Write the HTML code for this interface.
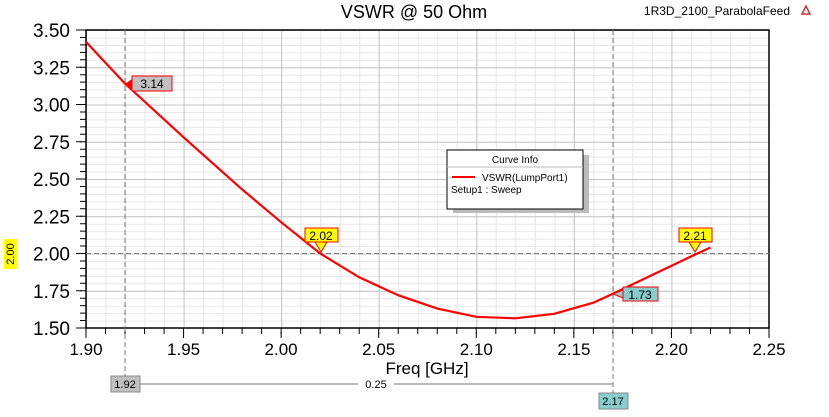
<!DOCTYPE html><html><head><style>body{margin:0;background:#fff}svg text{font-family:"Liberation Sans",sans-serif}</style></head><body>
<svg width="829" height="412" xmlns="http://www.w3.org/2000/svg">
<defs>
<pattern id="mn" x="86" y="30" width="19.5143" height="7.45" patternUnits="userSpaceOnUse"><path d="M0.5 0V7.45M0 0.5H19.5143" stroke="#e6e6e6" fill="none"/></pattern>
<pattern id="mj" x="86" y="30" width="97.5714" height="37.25" patternUnits="userSpaceOnUse"><path d="M0.5 0V37.25M0 0.5H97.5714" stroke="#c4c4c4" fill="none"/></pattern>
</defs>
<rect width="829" height="412" fill="#fff"/>
<rect x="86" y="30" width="683" height="298" fill="url(#mn)"/>
<rect x="86" y="30" width="683" height="298" fill="url(#mj)"/>
<rect x="86" y="30" width="683" height="298" fill="none" stroke="#000" stroke-width="1.5"/>
<line x1="83" y1="29.5" x2="83" y2="329" stroke="#000" stroke-width="6" stroke-dasharray="1,6.45"/>
<line x1="79" y1="29.5" x2="79" y2="329" stroke="#000" stroke-width="6" stroke-dasharray="1,36.25"/>
<line x1="85.5" y1="331" x2="770" y2="331" stroke="#000" stroke-width="6" stroke-dasharray="1,18.5143"/>
<line x1="85.5" y1="335" x2="770" y2="335" stroke="#000" stroke-width="6" stroke-dasharray="1,96.5714"/>
<text x="414" y="18" font-size="18" text-anchor="middle">VSWR @ 50 Ohm</text>
<text x="790" y="15" font-size="12" text-anchor="end">1R3D_2100_ParabolaFeed</text>
<path d="M806 6 l-4 8 h8z" fill="none" stroke="#c33" stroke-width="1.5"/>
<g font-size="19" text-anchor="end">
<text x="70" y="335">1.50</text><text x="70" y="297.75">1.75</text><text x="70" y="260.5">2.00</text><text x="70" y="223.25">2.25</text><text x="70" y="186">2.50</text><text x="70" y="148.75">2.75</text><text x="70" y="111.5">3.00</text><text x="70" y="74.25">3.25</text><text x="70" y="37">3.50</text>
</g>
<g font-size="17" text-anchor="middle">
<text x="86" y="355">1.90</text><text x="183.6" y="355">1.95</text><text x="281.1" y="355">2.00</text><text x="378.7" y="355">2.05</text><text x="476.3" y="355">2.10</text><text x="573.9" y="355">2.15</text><text x="671.4" y="355">2.20</text><text x="769" y="355">2.25</text>
<text x="427" y="374">Freq [GHz]</text>
</g>
<line x1="125" y1="30" x2="125" y2="380" stroke="#777" stroke-dasharray="5,3"/>
<line x1="613" y1="30" x2="613" y2="395" stroke="#777" stroke-dasharray="5,3"/>
<line x1="86" y1="253.5" x2="769" y2="253.5" stroke="#777" stroke-dasharray="5,3"/>
<polyline fill="none" stroke="#f00" stroke-width="2.2" points="86,41.9 125,83.6 183.6,137.3 242.1,189.4 281.1,222.2 320.2,253.5 359.2,277.3 398.2,295.2 437.3,308.6 476.3,316.8 515.3,318.3 554.3,313.8 593.4,302.7 612.9,293.7 651.9,275.1 691,256.5 710.5,247.5"/>
<path d="M125 84 l7 -5 v10z" fill="#f00"/><rect x="132" y="76" width="40" height="15" fill="#c0c0c0" stroke="#f00"/><text x="152" y="88" font-size="12" text-anchor="middle">3.14</text>
<rect x="305" y="228" width="33" height="14" fill="#ff0" stroke="#f00"/><text x="321" y="240" font-size="12" text-anchor="middle">2.02</text><path d="M315 242 l6 10 l6 -10z" fill="#ff0" stroke="#f00"/>
<rect x="679" y="228" width="33" height="14" fill="#ff0" stroke="#f00"/><text x="695" y="240" font-size="12" text-anchor="middle">2.21</text><path d="M689 242 l6 10 l6 -10z" fill="#ff0" stroke="#f00"/>
<path d="M613 294 l10 -4 v8z" fill="#8cc" stroke="#f00"/><rect x="623" y="287" width="35" height="14" fill="#8cc" stroke="#f00"/><text x="640" y="299" font-size="12" text-anchor="middle">1.73</text>
<rect x="4" y="239" width="13" height="30" fill="#ff0"/><text x="14" y="254" font-size="11" text-anchor="middle" transform="rotate(-90 14 254)">2.00</text>
<rect x="111" y="376" width="29" height="16" fill="#c0c0c0" stroke="#888"/><text x="125" y="388" font-size="11" text-anchor="middle">1.92</text>
<line x1="140" y1="384" x2="358" y2="384" stroke="#777"/><line x1="394" y1="384" x2="613" y2="384" stroke="#777"/><text x="376" y="388" font-size="11" text-anchor="middle">0.25</text>
<rect x="599" y="393" width="29" height="16" fill="#8cc" stroke="#888"/><text x="613" y="405" font-size="11" text-anchor="middle">2.17</text>
<rect x="453" y="155" width="136" height="58" fill="#bbb"/><rect x="447" y="150" width="136" height="59" fill="#fff" stroke="#000"/><line x1="447" y1="167" x2="583" y2="167" stroke="#bbb"/>
<text x="515" y="163" font-size="10" text-anchor="middle">Curve Info</text><line x1="452" y1="177" x2="475" y2="177" stroke="#f00" stroke-width="2"/><text x="482" y="181" font-size="10">VSWR(LumpPort1)</text><text x="451" y="193" font-size="10">Setup1 : Sweep</text>
</svg></body></html>
